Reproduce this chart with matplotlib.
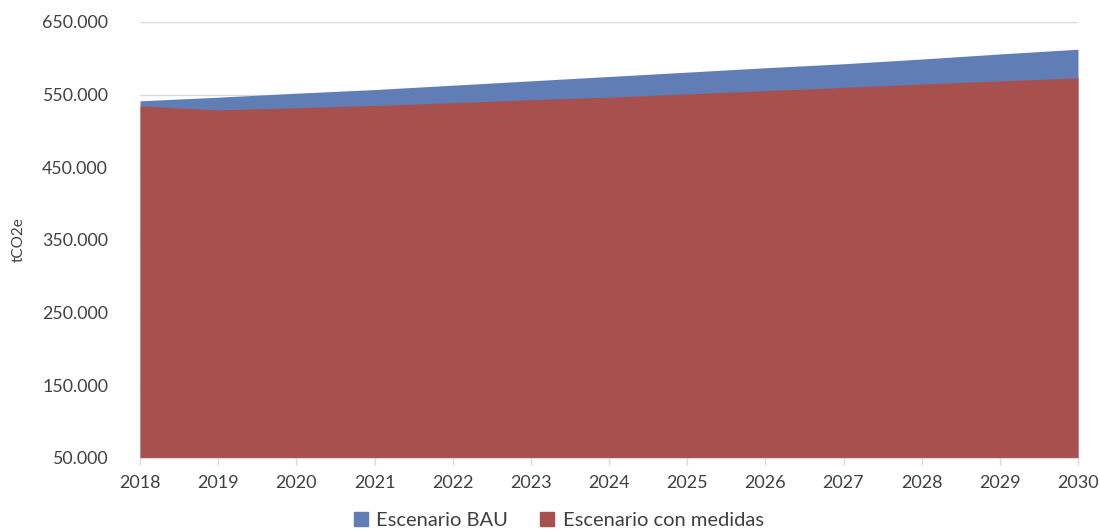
import matplotlib.pyplot as plt
from matplotlib.ticker import FuncFormatter
from matplotlib.patches import Patch

years = [2018, 2019, 2020, 2021, 2022, 2023, 2024, 2025, 2026, 2027, 2028, 2029, 2030]
bau = [541500, 546500, 552000, 557000, 563000, 569000, 575000,
       581000, 587000, 592500, 599000, 606000, 612500]
medidas = [534500, 529000, 532000, 535000, 539000, 543000, 546500,
           551000, 555500, 560000, 564500, 569000, 573000]
y_ticks = [50000, 150000, 250000, 350000, 450000, 550000, 650000]
labels = ['Escenario BAU', 'Escenario con medidas']

blue = '#607DB6'
red = '#A8504E'
grey_txt = '#404040'
grid = '#D9D9D9'

plt.rcParams['font.family'] = ['Lato', 'DejaVu Sans']

fig = plt.figure(figsize=(11, 5.31), dpi=100)
ax = fig.add_axes([0.1273, 0.1375, 0.8527, 0.8211])

ax.fill_between(years, bau, color=blue, linewidth=0, zorder=2)
ax.fill_between(years, medidas, color=red, linewidth=0, zorder=3)

ax.set_xlim(years[0], years[-1])
ax.set_ylim(y_ticks[0], y_ticks[-1])
ax.set_yticks(y_ticks)
ax.yaxis.set_major_formatter(FuncFormatter(lambda v, p: f'{int(v):,}'.replace(',', '.')))
ax.set_xticks(years)
ax.grid(axis='y', color=grid, linewidth=1, zorder=0)
ax.set_axisbelow(True)

for s in ['top', 'right', 'left']:
    ax.spines[s].set_visible(False)
ax.spines['bottom'].set_color(grid)
ax.spines['bottom'].set_zorder(4)

ax.tick_params(axis='y', length=0, pad=23, labelsize=12.8, labelcolor=grey_txt)
ax.tick_params(axis='x', length=5, color=grid, width=1, pad=7, labelsize=13, labelcolor=grey_txt)

ax.set_ylabel('tCO2e', fontsize=11, color=grey_txt)
ax.yaxis.set_label_coords(-0.122, 0.5)

handles = [Patch(color=blue), Patch(color=red)]
fig.legend(handles, labels, loc='center', bbox_to_anchor=(0.508, 0.019), ncol=2,
           frameon=False, fontsize=14.5, handlelength=0.7, handleheight=0.7,
           handletextpad=0.4, columnspacing=1.6, labelcolor=grey_txt)

fig.savefig('out.png', dpi=100)
